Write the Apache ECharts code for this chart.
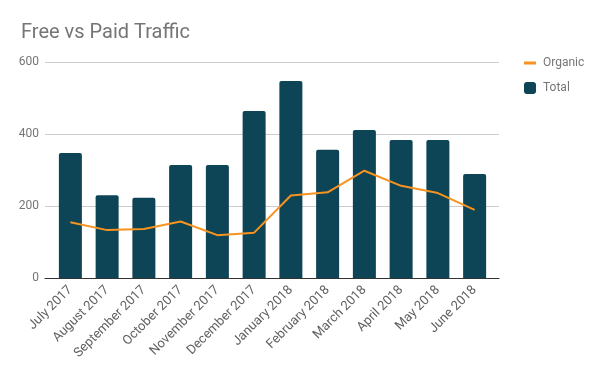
<!DOCTYPE html>
<html>
<head>
<meta charset="utf-8">
<script src="https://cdn.jsdelivr.net/npm/echarts@6/dist/echarts.min.js"></script>
<style>html,body{margin:0;padding:0;background:#fff}#c{width:600px;height:371px}</style>
</head>
<body>
<div id="c"></div>
<script>
const categories = ['July 2017','August 2017','September 2017','October 2017','November 2017','December 2017','January 2018','February 2018','March 2018','April 2018','May 2018','June 2018'];
const totalValues = [347, 230, 223, 314, 314, 464, 547, 356, 411, 383, 383, 289];
const organicValues = [155, 133, 136, 157, 119, 126, 229, 238, 298, 256, 236, 189];
const yMin = 0, yMax = 600, yInterval = 200;

const chart = echarts.init(document.getElementById('c'), null, {renderer:'canvas'});
const font = 'Roboto';
const legendText = {fontFamily: font, fontSize: 12, color: '#757575', padding:[0,0,0,2]};
chart.setOption({
  animation: false,
  textStyle: {fontFamily: font},
  title: {text: 'Free vs Paid Traffic', left: 16, top: 18,
    textStyle: {fontFamily: font, fontSize: 20, fontWeight: 'normal', color: '#757575'}},
  legend: [
    {left: 519, top: 52, itemWidth: 12, itemHeight: 3, icon: 'rect',
      textStyle: legendText, data: ['Organic']},
    {left: 519, top: 77, itemWidth: 12, itemHeight: 12, icon: 'roundRect',
      textStyle: legendText, data: ['Total']}
  ],
  grid: [
    {left: 45, right: 101, top: 62, bottom: 93},
    {left: 52, right: 107, top: 62, bottom: 93}
  ],
  xAxis: [
    {gridIndex: 0, type: 'value', min: 0, max: 1, axisLabel: {show: false}, axisTick: {show: false},
      splitLine: {show: false}, axisLine: {show: true, onZero: false, lineStyle: {color: '#333', width: 1}}},
    {gridIndex: 1, type: 'category', data: categories, axisLine: {show: false}, axisTick: {show: false},
      axisLabel: {rotate: 45, interval: 0, fontFamily: font, fontSize: 13, color: '#616161', margin: 10}}
  ],
  yAxis: [
    {gridIndex: 0, type: 'value', min: yMin, max: yMax, interval: yInterval,
      axisLine: {show: false}, axisTick: {show: false},
      axisLabel: {fontFamily: font, fontSize: 12, color: '#757575', margin: 6},
      splitLine: {lineStyle: {color: '#cccccc', width: 1}}},
    {gridIndex: 1, type: 'value', min: yMin, max: yMax, interval: yInterval, show: false, splitLine: {show: false}}
  ],
  series: [
    {name: 'Total', type: 'bar', xAxisIndex: 1, yAxisIndex: 1, data: totalValues, barWidth: 23,
      itemStyle: {color: '#0d4456', borderRadius: [2, 2, 0, 0]}, z: 2},
    {name: 'Organic', type: 'line', xAxisIndex: 1, yAxisIndex: 1, data: organicValues, symbol: 'none',
      lineStyle: {color: '#f7931e', width: 2}, itemStyle: {color: '#f7931e'}, z: 3}
  ]
});
</script>
</body>
</html>
